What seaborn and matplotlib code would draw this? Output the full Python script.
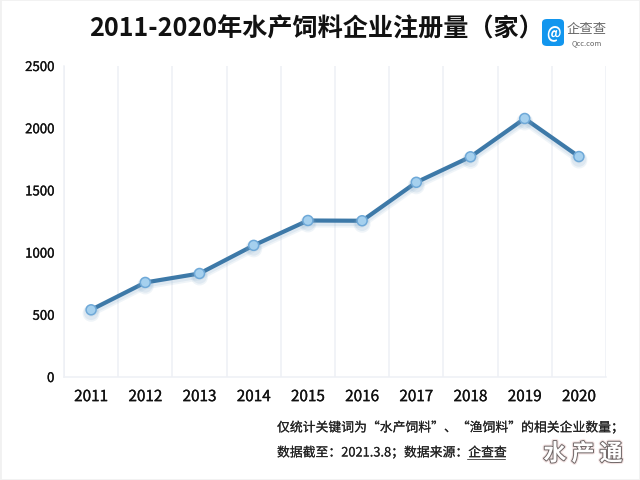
import matplotlib
matplotlib.use('Agg')
import matplotlib.pyplot as plt
import matplotlib.patheffects as pe
from matplotlib.lines import Line2D
from matplotlib.patches import FancyBboxPatch, Rectangle
import numpy as np
import pandas as pd
import seaborn as sns

# dados
years = ['2011', '2012', '2013', '2014', '2015', '2016', '2017', '2018', '2019', '2020']
counts = [540, 760, 832, 1058, 1258, 1256, 1565, 1770, 2078, 1772]
y_ticks = [0, 500, 1000, 1500, 2000, 2500]

title = '2011-2020年水产饲料企业注册量（家）'
note1 = '仅统计关键词为“水产饲料”、“渔饲料”的相关企业数量；'
note2 = '数据截至：2021.3.8；数据来源：企查查'
watermark = '水 产 通'

df = pd.DataFrame({'year': years, 'count': counts})

sns.set_theme(style='white')
plt.rcParams['font.family'] = ['Noto Sans CJK SC', 'DejaVu Sans']

W, H = 640, 481
fig = plt.figure(figsize=(W / 100, H / 100), dpi=100, facecolor='white')
ax = fig.add_axes([64 / W, 1 - 378 / H, 542 / W, 311 / H])

# sombra da linha
shadow = [pe.SimpleLineShadow(offset=(0, -2.5), shadow_color='#7fa9c9', alpha=0.12, linewidth=5),
          pe.SimpleLineShadow(offset=(0, -2), shadow_color='#7fa9c9', alpha=0.15, linewidth=3.5),
          pe.Normal()]
sns.lineplot(data=df, x='year', y='count', ax=ax, sort=False, color='#3d79a8', linewidth=3.0,
             marker='o', markersize=7.2, markerfacecolor='#a5d0ee', markeredgecolor='#6fa9d8',
             markeredgewidth=1.1, path_effects=shadow, zorder=3)

ax.set_xlim(-0.5, 9.5)
ax.set_ylim(0, 2500)
ax.set_yticks(y_ticks)
ax.set_xlabel('')
ax.set_ylabel('')
ax.set_xticks(np.arange(-0.5, 10, 1), minor=True)
ax.grid(True, which='minor', axis='x', color='#eef0f5', linewidth=1.1)
ax.grid(False, which='major')
ax.set_axisbelow(True)
for side in ['top', 'right']:
    ax.spines[side].set_visible(False)
for side in ['left', 'bottom']:
    ax.spines[side].set_color('#eef0f5')
    ax.spines[side].set_linewidth(1.1)
ax.tick_params(axis='both', which='both', length=0)
ax.tick_params(axis='x', which='major', pad=8, labelsize=11, labelcolor='#111111')
ax.tick_params(axis='y', which='major', pad=7, labelsize=9.5, labelcolor='#111111')

# engrossar um pouco os textos
thick = [pe.withStroke(linewidth=0.2, foreground='#111111')]
for lab in ax.get_xticklabels() + ax.get_yticklabels():
    lab.set_path_effects(thick)

# textos em coordenadas de pixel
def px(x, y):
    return x / W, 1 - y / H

fig.text(*px(316, 29), title, ha='center', va='center', fontsize=18.1, fontweight='bold', color='#111111')
t1 = fig.text(*px(277, 429), note1, ha='left', va='center', fontsize=9.25, color='#222222')
t2 = fig.text(*px(277, 454), note2, ha='left', va='center', fontsize=9.25, color='#222222')
t1.set_path_effects([pe.withStroke(linewidth=0.1, foreground='#222222')])
t2.set_path_effects([pe.withStroke(linewidth=0.1, foreground='#222222')])
fig.add_artist(Line2D([467 / W, 505 / W], [1 - 459.5 / H] * 2, color='#555555', linewidth=0.7))
fig.text(*px(583, 455), watermark, ha='center', va='center', fontsize=16.5, fontweight='bold', color='white',
         path_effects=[pe.withStroke(linewidth=3, foreground='#f3e3e3'),
                       pe.withStroke(linewidth=1.4, foreground='#6e6666')])

# logo
fig.add_artist(FancyBboxPatch(px(542, 47), 22 / W, 27 / H, boxstyle='round,pad=0,rounding_size=0.008',
                              transform=fig.transFigure, facecolor='#1296ee', edgecolor='none'))
fig.text(*px(553.5, 33), '@', ha='center', va='center', fontsize=10.5, fontweight='bold', color='white')
fig.text(*px(587, 29), '企查查', ha='center', va='center', fontsize=9.6, color='#666666')
fig.text(*px(587, 43), 'Qcc.com', ha='center', va='center', fontsize=5.4, color='#666666', fontweight='medium')

# borda clara da imagem
fig.add_artist(Rectangle((0, 0), 1, 1, transform=fig.transFigure, fill=False, edgecolor='#f1f1f1', linewidth=2))

fig.savefig('out.png', dpi=100)
